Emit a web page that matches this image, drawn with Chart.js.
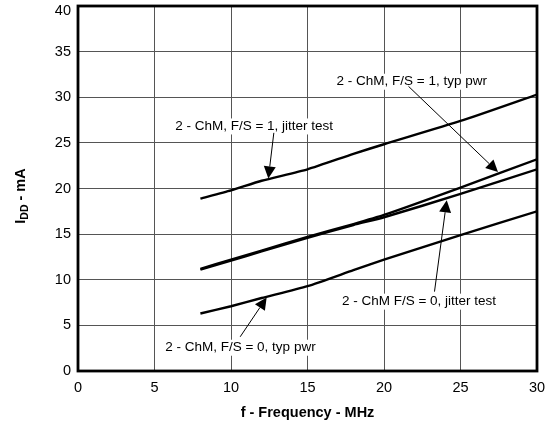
<!DOCTYPE html>
<html lang="en">
<head>
    <meta charset="UTF-8">
    <title>IDD vs Frequency</title>
    <script src="https://cdn.jsdelivr.net/npm/chart.js"></script>
    <style>
        body { margin: 0; background: #fff; }
        #wrap { width: 547px; height: 425px; }
    </style>
</head>
<body>
    <div id="wrap"><canvas id="chartCanvas" width="547" height="425"></canvas></div>

    <script>
        // frequency points (MHz) shared by all curves
        const freq = [8, 10, 12, 15, 18, 20, 25, 30];

        // supply current, mA
        const jitterFs1 = [18.9, 19.8, 20.85, 22.1, 23.8, 24.85, 27.4, 30.3];
        const typPwrFs1 = [11.2, 12.2, 13.2, 14.7, 16.1, 17.1, 20.1, 23.2];
        const jitterFs0 = [11.1, 12.1, 13.1, 14.6, 16.0, 16.85, 19.4, 22.1];
        const typPwrFs0 = [6.3, 7.1, 8.0, 9.3, 11.05, 12.2, 14.9, 17.5];

        const xTicks = [0, 5, 10, 15, 20, 25, 30];
        const yTicks = [0, 5, 10, 15, 20, 25, 30, 35, 40];

        // callouts: label left/centre and arrow start/tip, in data units
        const notes = [
            { text: '2 - ChM, F/S = 1, typ pwr', tx: 16.9, ty: 31.7, x1: 21.6, y1: 31.2, x2: 27.45, y2: 21.8 },
            { text: '2 - ChM, F/S = 1, jitter test', tx: 6.35, ty: 26.8, x1: 12.8, y1: 26.1, x2: 12.44, y2: 21.1 },
            { text: '2 - ChM F/S = 0, jitter test', tx: 17.25, ty: 7.6, x1: 23.3, y1: 8.7, x2: 24.1, y2: 18.7 },
            { text: '2 - ChM, F/S = 0, typ pwr', tx: 5.7, ty: 2.55, x1: 10.6, y1: 3.75, x2: 12.33, y2: 8.05 }
        ];

        function toPoints(ys) {
            return freq.map((f, i) => ({ x: f, y: ys[i] }));
        }

        function curve(ys) {
            return {
                data: toPoints(ys),
                borderColor: '#000',
                borderWidth: 2.4,
                pointRadius: 0,
                tension: 0.2,
                fill: false
            };
        }

        const FONT = '"Liberation Sans", Arial, sans-serif';
        const yMax = yTicks[yTicks.length - 1];

        // keep the plot box where the reference has it
        function noPad(s) {
            s.paddingTop = 0; s.paddingBottom = 0;
            s.paddingLeft = 0; s.paddingRight = 0;
        }

        const extras = {
            id: 'extras',
            afterDraw(chart) {
                const ctx = chart.ctx;
                const xs = chart.scales.x, ys = chart.scales.y;
                const a = chart.chartArea;
                ctx.save();

                // top y label sits a little below its line so it stays on the page
                ctx.font = '14.5px ' + FONT;
                ctx.fillStyle = '#000';
                ctx.textAlign = 'right';
                ctx.textBaseline = 'middle';
                ctx.fillText(String(yMax), a.left - 7, ys.getPixelForValue(yMax) + 4.5);

                // callouts
                ctx.font = '13.5px ' + FONT;
                ctx.textBaseline = 'middle';
                ctx.textAlign = 'left';
                notes.forEach(n => {
                    const px = xs.getPixelForValue(n.tx), py = ys.getPixelForValue(n.ty);
                    const w = ctx.measureText(n.text).width;
                    ctx.fillStyle = '#fff';
                    ctx.fillRect(px - 2, py - 8, w + 4, 16);
                    ctx.fillStyle = '#000';
                    ctx.fillText(n.text, px, py);

                    const sx = xs.getPixelForValue(n.x1), sy = ys.getPixelForValue(n.y1);
                    const ex = xs.getPixelForValue(n.x2), ey = ys.getPixelForValue(n.y2);
                    const ang = Math.atan2(ey - sy, ex - sx);
                    const len = 12, half = 6;
                    const bx = ex - len * Math.cos(ang), by = ey - len * Math.sin(ang);
                    ctx.strokeStyle = '#000';
                    ctx.lineWidth = 1;
                    ctx.beginPath();
                    ctx.moveTo(sx, sy);
                    ctx.lineTo(bx, by);
                    ctx.stroke();
                    ctx.beginPath();
                    ctx.moveTo(ex, ey);
                    ctx.lineTo(bx + half * Math.sin(ang), by - half * Math.cos(ang));
                    ctx.lineTo(bx - half * Math.sin(ang), by + half * Math.cos(ang));
                    ctx.closePath();
                    ctx.fill();
                });

                // plot frame
                ctx.strokeStyle = '#000';
                ctx.lineWidth = 2.8;
                ctx.strokeRect(a.left, a.top, a.right - a.left, a.bottom - a.top);

                // axis titles
                ctx.fillStyle = '#000';
                ctx.textAlign = 'center';
                ctx.textBaseline = 'middle';
                ctx.font = 'bold 14.5px ' + FONT;
                ctx.fillText('f - Frequency - MHz', (a.left + a.right) / 2, 413);

                ctx.translate(20, 196);
                ctx.rotate(-Math.PI / 2);
                const big = 'bold 14.5px ' + FONT, small = 'bold 10.5px ' + FONT;
                ctx.font = big; const wI = ctx.measureText('I').width, wRest = ctx.measureText(' - mA').width;
                ctx.font = small; const wDD = ctx.measureText('DD').width;
                let cx = -(wI + wDD + wRest) / 2;
                ctx.textAlign = 'left';
                ctx.textBaseline = 'alphabetic';
                ctx.font = big; ctx.fillText('I', cx, 5); cx += wI;
                ctx.font = small; ctx.fillText('DD', cx, 8); cx += wDD;
                ctx.font = big; ctx.fillText(' - mA', cx, 5);
                ctx.restore();
            }
        };

        new Chart(document.getElementById('chartCanvas'), {
            type: 'line',
            data: {
                datasets: [curve(jitterFs1), curve(typPwrFs1), curve(jitterFs0), curve(typPwrFs0)]
            },
            options: {
                responsive: false,
                animation: false,
                events: [],
                layout: { padding: { top: 6, right: 10, left: 0, bottom: 0 } },
                plugins: { legend: { display: false }, tooltip: { enabled: false } },
                scales: {
                    x: {
                        type: 'linear',
                        min: 0, max: 30,
                        afterBuildTicks: s => { s.ticks = xTicks.map(v => ({ value: v })); },
                        afterFit: s => { s.height = 54; noPad(s); },
                        grid: { color: '#555', lineWidth: 1, drawTicks: false },
                        border: { display: false },
                        ticks: { color: '#000', padding: 8, font: { family: FONT, size: 14.5 } }
                    },
                    y: {
                        min: 0, max: yMax,
                        afterBuildTicks: s => { s.ticks = yTicks.map(v => ({ value: v })); },
                        afterFit: s => { s.width = 78; noPad(s); },
                        grid: { color: '#555', lineWidth: 1, drawTicks: false },
                        border: { display: false },
                        ticks: {
                            color: '#000', padding: 7, font: { family: FONT, size: 14.5 },
                            callback: v => (v === yMax ? '' : String(v))
                        }
                    }
                }
            },
            plugins: [extras]
        });
    </script>
</body>
</html>
